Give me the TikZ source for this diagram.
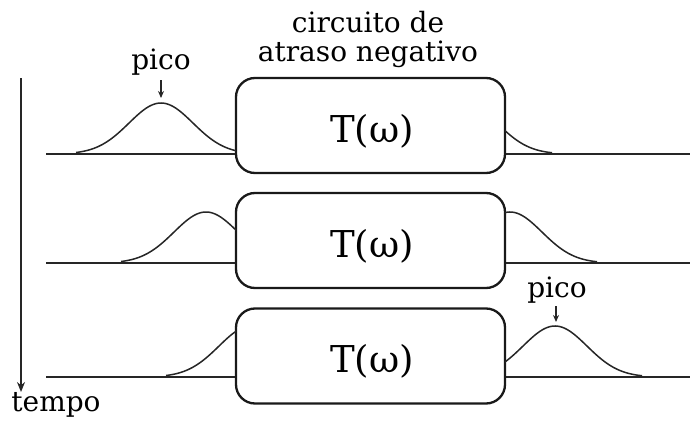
\documentclass[tikz,border=0pt]{standalone}
\usepackage{fontspec}
\setmainfont{DejaVu Serif}
\usetikzlibrary{arrows.meta}
\tikzset{
  box/.style={draw=black!90, line width=2.3pt, rounded corners=19pt, minimum width=269pt, minimum height=95pt, inner sep=0pt},
  thin/.style={draw=black!85, line width=1.5pt},
  lbl/.style={font=\fontsize{28}{29}\selectfont, inner sep=0pt, anchor=base},
  tw/.style={font=\fontsize{37}{38}\selectfont, inner sep=0pt},
  arr/.style={thin, -{Stealth[length=10pt,width=8pt]}},
  parr/.style={thin, line width=1.3pt, -{Stealth[length=7pt,width=6pt]}}
}
\begin{document}
\begin{tikzpicture}[x=1pt,y=-1pt]
\useasboundingbox (0,0) rectangle (690,428);
% boxes
\node[box] (b1) at (370.5,125.5) {};
\node[box] (b2) at (370.5,240.5) {};
\node[box] (b3) at (370.5,356) {};
\node[tw] (t1) at (372,131) {T(ω)};
\node[tw] (t2) at (372,246) {T(ω)};
\node[tw] (t3) at (372,361) {T(ω)};
% baselines
\coordinate (l1) at (46,154); \coordinate (r1) at (690,154);
\coordinate (l2) at (46,263); \coordinate (r2) at (690,263);
\coordinate (l3) at (46,377); \coordinate (r3) at (690,377);
\draw[thin] (l1) -- (l1 -| b1.west);
\draw[thin] (b1.east |- r1) -- (r1);
\draw[thin] (l2) -- (l2 -| b2.west);
\draw[thin] (b2.east |- r2) -- (r2);
\draw[thin] (l3) -- (l3 -| b3.west);
\draw[thin] (b3.east |- r3) -- (r3);
% pulses
\draw[thin] plot[domain=76:236, samples=80, smooth] (\x, {154 - 51*exp(-((\x-161)*(\x-161))/2048)});
\draw[thin] plot[domain=505:552, samples=40, smooth] (\x, {154 - 51*exp(-((\x-465)*(\x-465))/2048)});
\draw[thin] plot[domain=121:236, samples=70, smooth] (\x, {263 - 51*exp(-((\x-206)*(\x-206))/2048)});
\draw[thin] plot[domain=505:597, samples=60, smooth] (\x, {263 - 51*exp(-((\x-510)*(\x-510))/2048)});
\draw[thin] plot[domain=166:236, samples=50, smooth] (\x, {377 - 51*exp(-((\x-251)*(\x-251))/2048)});
\draw[thin] plot[domain=505:642, samples=80, smooth] (\x, {377 - 51*exp(-((\x-555)*(\x-555))/2048)});
% labels
\node[lbl] (c1) at (368,33) {circuito de};
\node[lbl] (c2) at (368,62) {atraso negativo};
\node[lbl] (p1) at (161,70) {pico};
\coordinate (p1a) at (161,80); \coordinate (p1b) at (161,98);
\draw[parr] (p1a) -- (p1b);
\node[lbl] (p2) at (557,297) {pico};
\coordinate (p2a) at (556,306); \coordinate (p2b) at (556,322);
\draw[parr] (p2a) -- (p2b);
% time axis
\coordinate (ta) at (21,78); \coordinate (tb) at (21,392);
\draw[arr] (ta) -- (tb);
\node[lbl] (tm) at (56,411) {tempo};
\end{tikzpicture}
\end{document}
